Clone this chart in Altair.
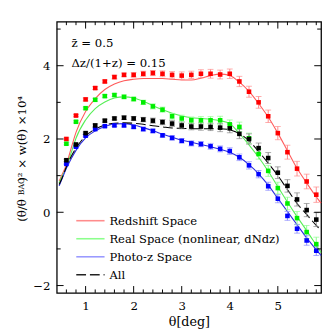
import altair as alt
import pandas as pd

# ---------------- data ----------------
theta = [0.6, 0.8, 1.0, 1.2, 1.4, 1.6, 1.8, 2.0, 2.2, 2.4, 2.6, 2.8, 3.0, 3.2,
         3.4, 3.6, 3.8, 4.0, 4.2, 4.4, 4.6, 4.8, 5.0, 5.2, 5.4, 5.6, 5.8]

red_pts = [2.00, 2.64, 3.08, 3.39, 3.57, 3.69, 3.75, 3.75, 3.78, 3.80, 3.78, 3.75, 3.73, 3.75,
           3.78, 3.78, 3.76, 3.78, 3.57, 3.29, 3.00, 2.62, 2.16, 1.64, 1.19, 0.84, 0.48]
green_pts = [1.87, 2.47, 2.84, 3.07, 3.17, 3.20, 3.15, 3.09, 3.00, 2.89, 2.80, 2.62, 2.56, 2.51,
             2.51, 2.51, 2.51, 2.40, 2.33, 2.02, 1.59, 1.13, 0.66, 0.24, -0.16, -0.54, -0.87]
blue_pts = [1.32, 1.79, 2.09, 2.27, 2.35, 2.37, 2.37, 2.33, 2.27, 2.22, 2.10, 2.03, 1.95, 1.88,
            1.86, 1.80, 1.73, 1.67, 1.50, 1.28, 1.04, 0.71, 0.37, -0.10, -0.45, -0.77, -1.05]
black_pts = [1.42, 1.85, 2.16, 2.37, 2.50, 2.56, 2.58, 2.56, 2.53, 2.50, 2.46, 2.42, 2.37, 2.34,
             2.34, 2.33, 2.31, 2.29, 2.14, 2.00, 1.75, 1.48, 1.08, 0.72, 0.35, 0.06, -0.20]

red_err = [0.03, 0.03, 0.04, 0.04, 0.04, 0.05, 0.05, 0.06, 0.07, 0.07, 0.08, 0.09, 0.10, 0.10,
           0.11, 0.12, 0.12, 0.13, 0.14, 0.15, 0.16, 0.17, 0.18, 0.19, 0.20, 0.20, 0.21]
green_err = [0.03, 0.03, 0.03, 0.04, 0.04, 0.04, 0.05, 0.05, 0.06, 0.07, 0.07, 0.08, 0.09, 0.09,
             0.10, 0.10, 0.11, 0.12, 0.13, 0.14, 0.14, 0.15, 0.16, 0.17, 0.18, 0.18, 0.19]
blue_err = [0.02, 0.02, 0.03, 0.03, 0.03, 0.03, 0.04, 0.04, 0.05, 0.05, 0.05, 0.06, 0.06, 0.07,
            0.07, 0.08, 0.08, 0.09, 0.09, 0.10, 0.10, 0.11, 0.11, 0.12, 0.12, 0.13, 0.13]
black_err = [0.03, 0.03, 0.03, 0.04, 0.04, 0.04, 0.05, 0.05, 0.06, 0.07, 0.07, 0.08, 0.09, 0.09,
             0.10, 0.10, 0.11, 0.12, 0.13, 0.14, 0.14, 0.15, 0.16, 0.17, 0.18, 0.18, 0.19]

model_theta = [0.45, 0.5, 0.6, 0.7, 0.8, 1.0, 1.2, 1.4, 1.6, 1.8, 2.0, 2.2, 2.4, 2.6, 2.8, 3.0,
               3.2, 3.4, 3.6, 3.8, 4.0, 4.2, 4.4, 4.6, 4.8, 5.0, 5.2, 5.4, 5.6, 5.8, 5.9]
red_model = [0.85, 1.00, 1.30, 1.75, 2.18, 2.75, 3.10, 3.35, 3.50, 3.59, 3.63, 3.65, 3.65, 3.65,
             3.63, 3.61, 3.61, 3.66, 3.73, 3.77, 3.73, 3.55, 3.30, 2.97, 2.60, 2.16, 1.68, 1.20,
             0.80, 0.42, 0.25]
green_model = [0.80, 0.95, 1.22, 1.62, 2.02, 2.52, 2.83, 3.01, 3.12, 3.15, 3.12, 3.03, 2.91, 2.80,
               2.70, 2.63, 2.58, 2.56, 2.54, 2.50, 2.42, 2.15, 1.84, 1.50, 1.12, 0.70, 0.28, -0.12,
               -0.50, -0.90, -1.10]
blue_model = [0.72, 0.88, 1.20, 1.46, 1.69, 2.03, 2.22, 2.34, 2.41, 2.42, 2.38, 2.31, 2.23, 2.13,
              2.05, 1.97, 1.91, 1.85, 1.79, 1.72, 1.64, 1.50, 1.30, 1.05, 0.74, 0.38, 0.02, -0.34,
              -0.70, -1.02, -1.18]
black_model = [0.76, 0.90, 1.24, 1.52, 1.75, 2.08, 2.27, 2.38, 2.43, 2.44, 2.43, 2.40, 2.36, 2.33,
               2.30, 2.29, 2.28, 2.28, 2.28, 2.28, 2.25, 2.15, 1.95, 1.66, 1.34, 1.00, 0.62, 0.24,
               -0.06, -0.36, -0.50]

series_names = ["Redshift Space", "Real Space (nonlinear, dNdz)", "Photo-z Space", "All"]
annotations = ["z\u0304 = 0.5", "\u0394z/(1+z) = 0.15"]

x_major = [1, 2, 3, 4, 5]
x_minor = [0.6, 0.8, 1.2, 1.4, 1.6, 1.8, 2.2, 2.4, 2.6, 2.8, 3.2, 3.4, 3.6, 3.8,
           4.2, 4.4, 4.6, 4.8, 5.2, 5.4, 5.6, 5.8]
y_major = [-2, 0, 2, 4]
y_minor = [-1, 1, 3, 5]

# ---------------- styling ----------------
FONT = "DejaVu Serif"
W, H = 271, 278

series = [
    dict(name=series_names[0], pts=red_pts, err=red_err, model=red_model,
         pc="#ff0000", ec="#ff8a8a", lc="#ff5a5a", gc="#ff8c8c", dash=None),
    dict(name=series_names[1], pts=green_pts, err=green_err, model=green_model,
         pc="#00ee00", ec="#8aff8a", lc="#55ee55", gc="#8cff8c", dash=None),
    dict(name=series_names[2], pts=blue_pts, err=blue_err, model=blue_model,
         pc="#0000ff", ec="#8a8aff", lc="#2a2ae0", gc="#9a9aff", dash=None),
    dict(name=series_names[3], pts=black_pts, err=black_err, model=black_model,
         pc="#000000", ec="#888888", lc="#000000", gc="#222222", dash=[10, 4]),
]

xscale = alt.Scale(domain=[0.4, 5.9], nice=False, zero=False)
yscale = alt.Scale(domain=[-2.2, 5.2], nice=False, zero=False)
xaxis = alt.Axis(values=x_major, format="d", title="\u03b8[deg]", ticks=False, domain=False,
                 grid=False, labelFont=FONT, labelFontSize=12, labelColor="black",
                 labelPadding=8, titleFont=FONT, titleFontSize=13, titleFontWeight="normal",
                 titleColor="black", titlePadding=4)
yaxis = alt.Axis(values=y_major, format="d", title=None, ticks=False, domain=False, grid=False,
                 labelFont=FONT, labelFontSize=12, labelColor="black", labelPadding=7)


def X(f):
    return alt.X(f, type="quantitative", scale=xscale, axis=xaxis)


def Y(f):
    return alt.Y(f, type="quantitative", scale=yscale, axis=yaxis)


lines, errs, pts = [], [], []
for s in series:
    mdf = pd.DataFrame({"x": model_theta, "y": s["model"]})
    lk = dict(color=s["lc"], strokeWidth=1.1, interpolate="monotone")
    if s["dash"]:
        lk["strokeDash"] = s["dash"]
    lines.append(alt.Chart(mdf).mark_line(**lk).encode(x=X("x"), y=Y("y")))

    pdf = pd.DataFrame({"x": theta, "y": s["pts"], "e": s["err"]})
    b = alt.Chart(pdf).transform_calculate(lo="datum.y - datum.e", hi="datum.y + datum.e")
    errs.append(b.mark_rule(color=s["ec"], strokeWidth=1).encode(x=X("x"), y=Y("lo"), y2="hi:Q"))
    errs.append(b.mark_tick(color=s["ec"], orient="horizontal", size=6, thickness=1)
                .encode(x=X("x"), y=Y("lo")))
    errs.append(b.mark_tick(color=s["ec"], orient="horizontal", size=6, thickness=1)
                .encode(x=X("x"), y=Y("hi")))
    pts.append(alt.Chart(pdf).mark_point(shape="square", filled=True, size=22, opacity=1,
                                         color=s["pc"]).encode(x=X("x"), y=Y("y")))

# frame ticks (inward, on all four sides)
xmaj = pd.DataFrame({"x": x_major})
xmin = pd.DataFrame({"x": x_minor})
ymaj = pd.DataFrame({"y": y_major})
ymin = pd.DataFrame({"y": y_minor})
tk = dict(color="black", strokeWidth=1)
ticks = [
    alt.Chart(xmaj).mark_rule(**tk).encode(x=X("x"), y=alt.value(H), y2=alt.value(H - 7)),
    alt.Chart(xmaj).mark_rule(**tk).encode(x=X("x"), y=alt.value(0), y2=alt.value(7)),
    alt.Chart(xmin).mark_rule(**tk).encode(x=X("x"), y=alt.value(H), y2=alt.value(H - 3.5)),
    alt.Chart(xmin).mark_rule(**tk).encode(x=X("x"), y=alt.value(0), y2=alt.value(3.5)),
    alt.Chart(ymaj).mark_rule(**tk).encode(y=Y("y"), x=alt.value(0), x2=alt.value(7)),
    alt.Chart(ymaj).mark_rule(**tk).encode(y=Y("y"), x=alt.value(W), x2=alt.value(W - 7)),
    alt.Chart(ymin).mark_rule(**tk).encode(y=Y("y"), x=alt.value(0), x2=alt.value(4)),
    alt.Chart(ymin).mark_rule(**tk).encode(y=Y("y"), x=alt.value(W), x2=alt.value(W - 4)),
]

# legend (inside, lower left)
one = pd.DataFrame({"k": [0]})
legend = []
for i, s in enumerate(series):
    ly = 204 + i * 18.5
    rk = dict(color=s["gc"], strokeWidth=1.6)
    if s["dash"]:
        rk["strokeDash"] = s["dash"]
    legend.append(alt.Chart(one).mark_rule(**rk).encode(
        x=alt.value(20), x2=alt.value(49), y=alt.value(ly)))
    legend.append(alt.Chart(one).mark_text(
        text=s["name"], font=FONT, fontSize=11.8, align="left", baseline="middle",
        color="black").encode(x=alt.value(54), y=alt.value(ly)))

# annotations
notes = []
for i, t in enumerate(annotations):
    notes.append(alt.Chart(one).mark_text(
        text=t, font=FONT, fontSize=12, align="left", baseline="middle", color="black"
    ).encode(x=alt.value(15), y=alt.value(22 + i * 20)))

# y-axis title built from pieces (subscript BAO)
yb = 182
ytitle = [
    alt.Chart(one).mark_text(text="(\u03b8/\u03b8", font=FONT, fontSize=12, angle=270,
                             align="right", baseline="middle", color="black")
    .encode(x=alt.value(-36), y=alt.value(yb)),
    alt.Chart(one).mark_text(text="BAO", font=FONT, fontSize=8, angle=270,
                             align="left", baseline="middle", color="black", dx=4)
    .encode(x=alt.value(-36), y=alt.value(yb)),
    alt.Chart(one).mark_text(text=")\u00b2 \u00d7 w(\u03b8) \u00d710\u2074", font=FONT,
                             fontSize=12, angle=270, align="left", baseline="middle",
                             color="black")
    .encode(x=alt.value(-36), y=alt.value(yb - 18)),
]

chart = alt.layer(*(lines + errs + pts + ticks + legend + notes + ytitle)).properties(
    width=W, height=H,
    padding={"left": 50, "top": 10, "right": 3, "bottom": 35},
    autosize=alt.AutoSizeParams(type="none"),
    background="white",
).configure_view(stroke="black", strokeWidth=1.3)

chart.save("out.html", embed_options={"renderer": "svg", "actions": False})
